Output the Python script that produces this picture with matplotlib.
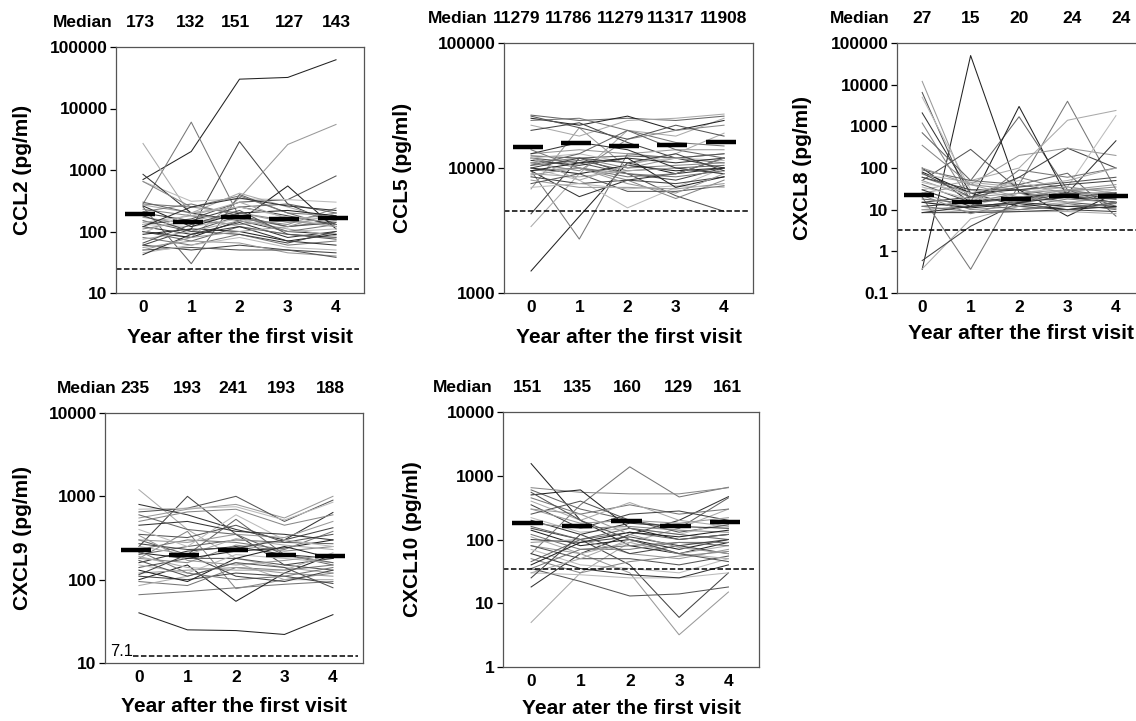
import matplotlib.pyplot as plt
import numpy as np

plt.rcParams['font.family'] = ['Liberation Sans', 'DejaVu Sans']

years = [0, 1, 2, 3, 4]

# CCL2 (pg/ml), one row per subject, years 0-4
ccl2_lines = [
    [700, 2000, 30000, 32000, 62000], [280, 6000, 170, 120, 150],
    [2700, 180, 120, 90, 80], [60, 110, 2900, 280, 130],
    [100, 80, 350, 2600, 5500], [130, 160, 300, 330, 800],
    [650, 310, 340, 330, 300], [850, 200, 150, 100, 90],
    [650, 250, 200, 150, 120], [250, 30, 400, 200, 120],
    [100, 80, 150, 550, 110], [280, 250, 380, 200, 180],
    [270, 200, 420, 250, 150], [200, 150, 250, 180, 130],
    [170, 130, 200, 140, 160], [150, 100, 180, 120, 140],
    [130, 120, 160, 100, 110], [120, 90, 140, 80, 100],
    [110, 150, 130, 150, 200], [100, 70, 120, 90, 80],
    [90, 110, 100, 70, 90], [80, 60, 90, 60, 70],
    [75, 100, 150, 110, 85], [60, 50, 60, 50, 45],
    [55, 70, 65, 45, 40], [50, 55, 50, 50, 38],
    [45, 60, 80, 55, 50], [42, 90, 120, 70, 60],
    [230, 180, 160, 130, 240], [300, 200, 250, 280, 200],
    [260, 120, 200, 220, 180], [210, 280, 180, 100, 130],
    [140, 180, 300, 160, 120], [180, 100, 90, 65, 100],
    [50, 80, 100, 120, 200], [65, 130, 220, 90, 75],
    [95, 200, 250, 170, 160], [120, 250, 350, 260, 220],
]
ccl2_median_text = ['173', '132', '151', '127', '143']
ccl2_median_bar = [195, 145, 175, 158, 165]
ccl2_limit = 25

# CCL5
ccl5_lines = [
    [1500, 4100, 11000, 9000, 12000], [9500, 2700, 13000, 12000, 11000],
    [3400, 9000, 20000, 18000, 25000], [4300, 12000, 9000, 8000, 10000],
    [6800, 21000, 10000, 12000, 13000], [12000, 11000, 9000, 6000, 4500],
    [10000, 8000, 4800, 7000, 10000], [9500, 5900, 8000, 9000, 10000],
    [12000, 10000, 8000, 5700, 8000], [26500, 24000, 25000, 24000, 26000],
    [25000, 22000, 26000, 20000, 24000], [24000, 25000, 20000, 16000, 15000],
    [22000, 18000, 24000, 25000, 27000], [20000, 23000, 16000, 12000, 10000],
    [13000, 14000, 13000, 14000, 14000], [12500, 12000, 12500, 12000, 13000],
    [12000, 13000, 11000, 12000, 11500], [11500, 10500, 12000, 11000, 12000],
    [11000, 12000, 10000, 10500, 11000], [10500, 11500, 9500, 10000, 10500],
    [10000, 9000, 10500, 9500, 10000], [9500, 10000, 9000, 8500, 9500],
    [9000, 8500, 9500, 10000, 9000], [8500, 7500, 8000, 7500, 8500],
    [8000, 7000, 7000, 6800, 7500], [7500, 9000, 6500, 6500, 7200],
    [7000, 7500, 6800, 7200, 7000], [13000, 16000, 14000, 10000, 9000],
    [11000, 9500, 17000, 20000, 22000], [10500, 13000, 20000, 14000, 12000],
    [9500, 11000, 12000, 7000, 8500], [14000, 10000, 8500, 9000, 12000],
    [12000, 8000, 10500, 13000, 19000], [10000, 12000, 11000, 13000, 9500],
    [8800, 10000, 7500, 6300, 9000], [26000, 21000, 17000, 22000, 18000],
]
ccl5_median_text = ['11279', '11786', '11279', '11317', '11908']
ccl5_median_bar = [14700, 15900, 15000, 15200, 16000]
ccl5_limit = 4500

# CXCL8
cxcl8_lines = [
    [0.37, 50000, 25, 20, 15], [20, 0.37, 40, 25, 20],
    [0.38, 6, 12, 15, 20], [0.6, 4, 15, 25, 18],
    [12000, 20, 15, 20, 25], [6500, 15, 25, 15, 12],
    [5000, 30, 20, 30, 18], [2100, 25, 12, 10, 15],
    [1200, 15, 60, 30, 20], [700, 50, 1700, 30, 12],
    [100, 15, 3000, 20, 15], [60, 25, 40, 4000, 30],
    [30, 50, 100, 1400, 2400], [15, 20, 60, 300, 100],
    [25, 40, 200, 300, 200], [50, 280, 30, 20, 25],
    [15, 12, 25, 35, 1800], [12, 15, 20, 25, 450],
    [350, 40, 30, 35, 25], [90, 50, 40, 75, 7],
    [80, 25, 30, 7, 25], [10, 12, 90, 60, 100],
    [70, 45, 35, 50, 100], [60, 30, 30, 40, 50],
    [50, 20, 25, 30, 30], [40, 15, 18, 25, 25],
    [35, 18, 20, 15, 20], [30, 12, 15, 20, 18],
    [25, 10, 12, 18, 15], [18, 14, 10, 12, 14],
    [15, 11, 14, 10, 12], [12, 9, 10, 14, 10],
    [10, 8.5, 9, 9, 8], [8.5, 8.5, 9, 10, 9],
    [100, 40, 20, 30, 40], [75, 20, 35, 45, 60],
    [45, 25, 50, 20, 30], [8.5, 12, 15, 12, 11],
    [22, 8, 16, 28, 35],
]
cxcl8_median_text = ['27', '15', '20', '24', '24']
cxcl8_median_bar = [23, 15, 18, 21, 21]
cxcl8_limit = 3.3

# CXCL9
cxcl9_lines = [
    [40, 25, 24.5, 22, 38], [66, 72, 80, 88, 95],
    [1200, 400, 180, 140, 120], [250, 1000, 350, 150, 180],
    [550, 700, 800, 550, 1000], [650, 720, 1000, 500, 900],
    [700, 720, 750, 520, 850], [800, 600, 400, 300, 640],
    [180, 380, 78, 100, 120], [300, 200, 530, 200, 150],
    [100, 150, 55, 120, 200], [95, 85, 140, 130, 150],
    [85, 110, 160, 100, 100], [110, 100, 120, 110, 90],
    [120, 130, 140, 120, 110], [140, 180, 180, 150, 130],
    [150, 120, 200, 180, 160], [160, 220, 250, 200, 180],
    [180, 160, 260, 220, 250], [200, 250, 300, 280, 270],
    [210, 180, 220, 240, 300], [230, 300, 280, 230, 380],
    [250, 200, 310, 260, 230], [270, 230, 240, 300, 420],
    [300, 280, 350, 320, 500], [350, 320, 450, 280, 350],
    [400, 250, 600, 300, 250], [450, 500, 380, 350, 300],
    [500, 650, 700, 450, 600], [600, 400, 350, 200, 160],
    [130, 95, 180, 250, 180], [220, 120, 100, 110, 140],
    [190, 140, 130, 130, 210], [115, 200, 110, 95, 130],
    [340, 170, 150, 170, 200], [170, 110, 160, 140, 80],
]
cxcl9_median_text = ['235', '193', '241', '193', '188']
cxcl9_median_bar = [228, 195, 229, 200, 190]
cxcl9_limit = 12.3

# CXCL10
cxcl10_lines = [
    [1550, 200, 80, 60, 90], [60, 350, 1380, 465, 660],
    [5, 30, 90, 150, 300], [150, 100, 40, 6, 30],
    [80, 60, 30, 3.2, 15], [35, 22, 13, 14, 18],
    [30, 28, 25, 25, 30], [18, 60, 120, 200, 470],
    [650, 550, 520, 520, 650], [600, 300, 200, 150, 450],
    [500, 600, 150, 100, 120], [450, 250, 350, 250, 300],
    [400, 200, 380, 200, 160], [350, 150, 250, 280, 200],
    [300, 180, 200, 180, 220], [250, 400, 200, 130, 170],
    [220, 130, 150, 120, 190], [200, 120, 180, 160, 150],
    [180, 150, 160, 140, 130], [160, 100, 130, 100, 120],
    [140, 80, 100, 70, 100], [120, 70, 70, 90, 90],
    [110, 60, 90, 60, 80], [100, 90, 110, 80, 60],
    [90, 100, 60, 50, 70], [80, 50, 50, 40, 55],
    [70, 40, 35, 30, 50], [60, 35, 28, 25, 40],
    [50, 30, 45, 55, 65], [45, 100, 150, 120, 100],
    [40, 90, 130, 110, 140], [35, 70, 80, 90, 80],
    [30, 50, 100, 60, 50], [25, 120, 60, 80, 100],
    [300, 250, 120, 75, 60], [550, 200, 100, 60, 45],
]
cxcl10_median_text = ['151', '135', '160', '129', '161']
cxcl10_median_bar = [183, 165, 195, 165, 188]
cxcl10_limit = 35

W, H = 1136, 721
grays = ['#222222', '#777777', '#aaaaaa', '#444444', '#999999',
         '#555555', '#bbbbbb', '#333333', '#888888', '#666666']

fig = plt.figure(figsize=(W / 100, H / 100), dpi=100)


def panel(box, xlim, lines, med_text, med_bar, limit, ylim, yticks, ylabel,
          xlabel, ylab_off, xlab_off, word_x, num_x, lim_xmin=0.0):
    l, t, r, b = box
    ax = fig.add_axes([l / W, 1 - b / H, (r - l) / W, (b - t) / H])
    ax.set_yscale('log')
    for i, v in enumerate(lines):
        ax.plot(years, v, color=grays[i % len(grays)], lw=0.75)
    for x, m in zip(years, med_bar):
        ax.plot([x - 0.38, x + 0.24], [m, m], color='black', lw=3.2,
                solid_capstyle='butt', zorder=5)
    ax.axhline(limit, xmin=lim_xmin, xmax=0.98, color='black', lw=1.1,
               dashes=(3.6, 1.6))
    ax.set_xlim(*xlim)
    ax.set_ylim(*ylim)
    ax.set_yticks(yticks)
    ax.set_yticklabels([('%g' % v) for v in yticks])
    ax.minorticks_off()
    ax.set_xticks(years)
    ax.tick_params(axis='y', length=4, width=0.9, pad=2, labelsize=12.5)
    ax.tick_params(axis='x', length=0, pad=5, labelsize=12.5)
    for lab in ax.get_xticklabels() + ax.get_yticklabels():
        lab.set_fontweight('bold')
    for s in ax.spines.values():
        s.set_color('#555555')
        s.set_linewidth(0.9)
    ax.text(-ylab_off / (r - l), 0.5, ylabel, rotation=90, transform=ax.transAxes,
            ha='center', va='center', fontsize=15, fontweight='bold')
    ax.text(0.5, -xlab_off / (b - t), xlabel, transform=ax.transAxes,
            ha='center', va='center', fontsize=15, fontweight='bold')
    tr = ax.get_xaxis_transform()
    ax.annotate('Median', xy=(word_x, 1), xycoords=tr, xytext=(0, 17.5),
                textcoords='offset points', ha='center', va='center',
                fontsize=12.5, fontweight='bold', annotation_clip=False)
    for x, s in zip(num_x, med_text):
        ax.annotate(s, xy=(x, 1), xycoords=tr, xytext=(0, 17.5),
                    textcoords='offset points', ha='center', va='center',
                    fontsize=12.5, fontweight='bold', annotation_clip=False)
    return ax


panel((116, 47, 364, 293), (-0.56, 4.58), ccl2_lines, ccl2_median_text,
      ccl2_median_bar, ccl2_limit, (10, 100000),
      [10, 100, 1000, 10000, 100000], 'CCL2 (pg/ml)',
      'Year after the first visit', 93, 44, -1.24, [-0.06, 0.99, 1.91, 3.03, 4.0])

panel((504, 43, 753, 293), (-0.56, 4.6), ccl5_lines, ccl5_median_text,
      ccl5_median_bar, ccl5_limit, (1000, 100000),
      [1000, 10000, 100000], 'CCL5 (pg/ml)',
      'Year after the first visit', 101, 44, -1.52, [-0.29, 0.77, 1.85, 2.9, 4.0])

panel((897, 43, 1145, 293), (-0.52, 4.6), cxcl8_lines, cxcl8_median_text,
      cxcl8_median_bar, cxcl8_limit, (0.1, 100000),
      [0.1, 1, 10, 100, 1000, 10000, 100000], 'CXCL8 (pg/ml)',
      'Year after the first visit', 94, 40, -1.28, [0, 1.0, 2.0, 3.1, 4.1])

ax9 = panel((105, 413, 363, 663), (-0.70, 4.62), cxcl9_lines, cxcl9_median_text,
            cxcl9_median_bar, cxcl9_limit, (10, 10000),
            [10, 100, 1000, 10000], 'CXCL9 (pg/ml)',
            'Year after the first visit', 82, 44, -1.07,
            [-0.08, 0.99, 1.94, 2.94, 3.94], lim_xmin=0.11)
ax9.annotate('7.1', xy=(-0.36, cxcl9_limit), xytext=(0, 3),
             textcoords='offset points', ha='center', va='center', fontsize=12)

panel((503, 412, 759, 667), (-0.57, 4.62), cxcl10_lines, cxcl10_median_text,
      cxcl10_median_bar, cxcl10_limit, (1, 10000),
      [1, 10, 100, 1000, 10000], 'CXCL10 (pg/ml)',
      'Year ater the first visit', 91, 41, -1.38, [-0.08, 0.93, 1.95, 2.98, 3.98])

fig.savefig('out.png', dpi=100)
